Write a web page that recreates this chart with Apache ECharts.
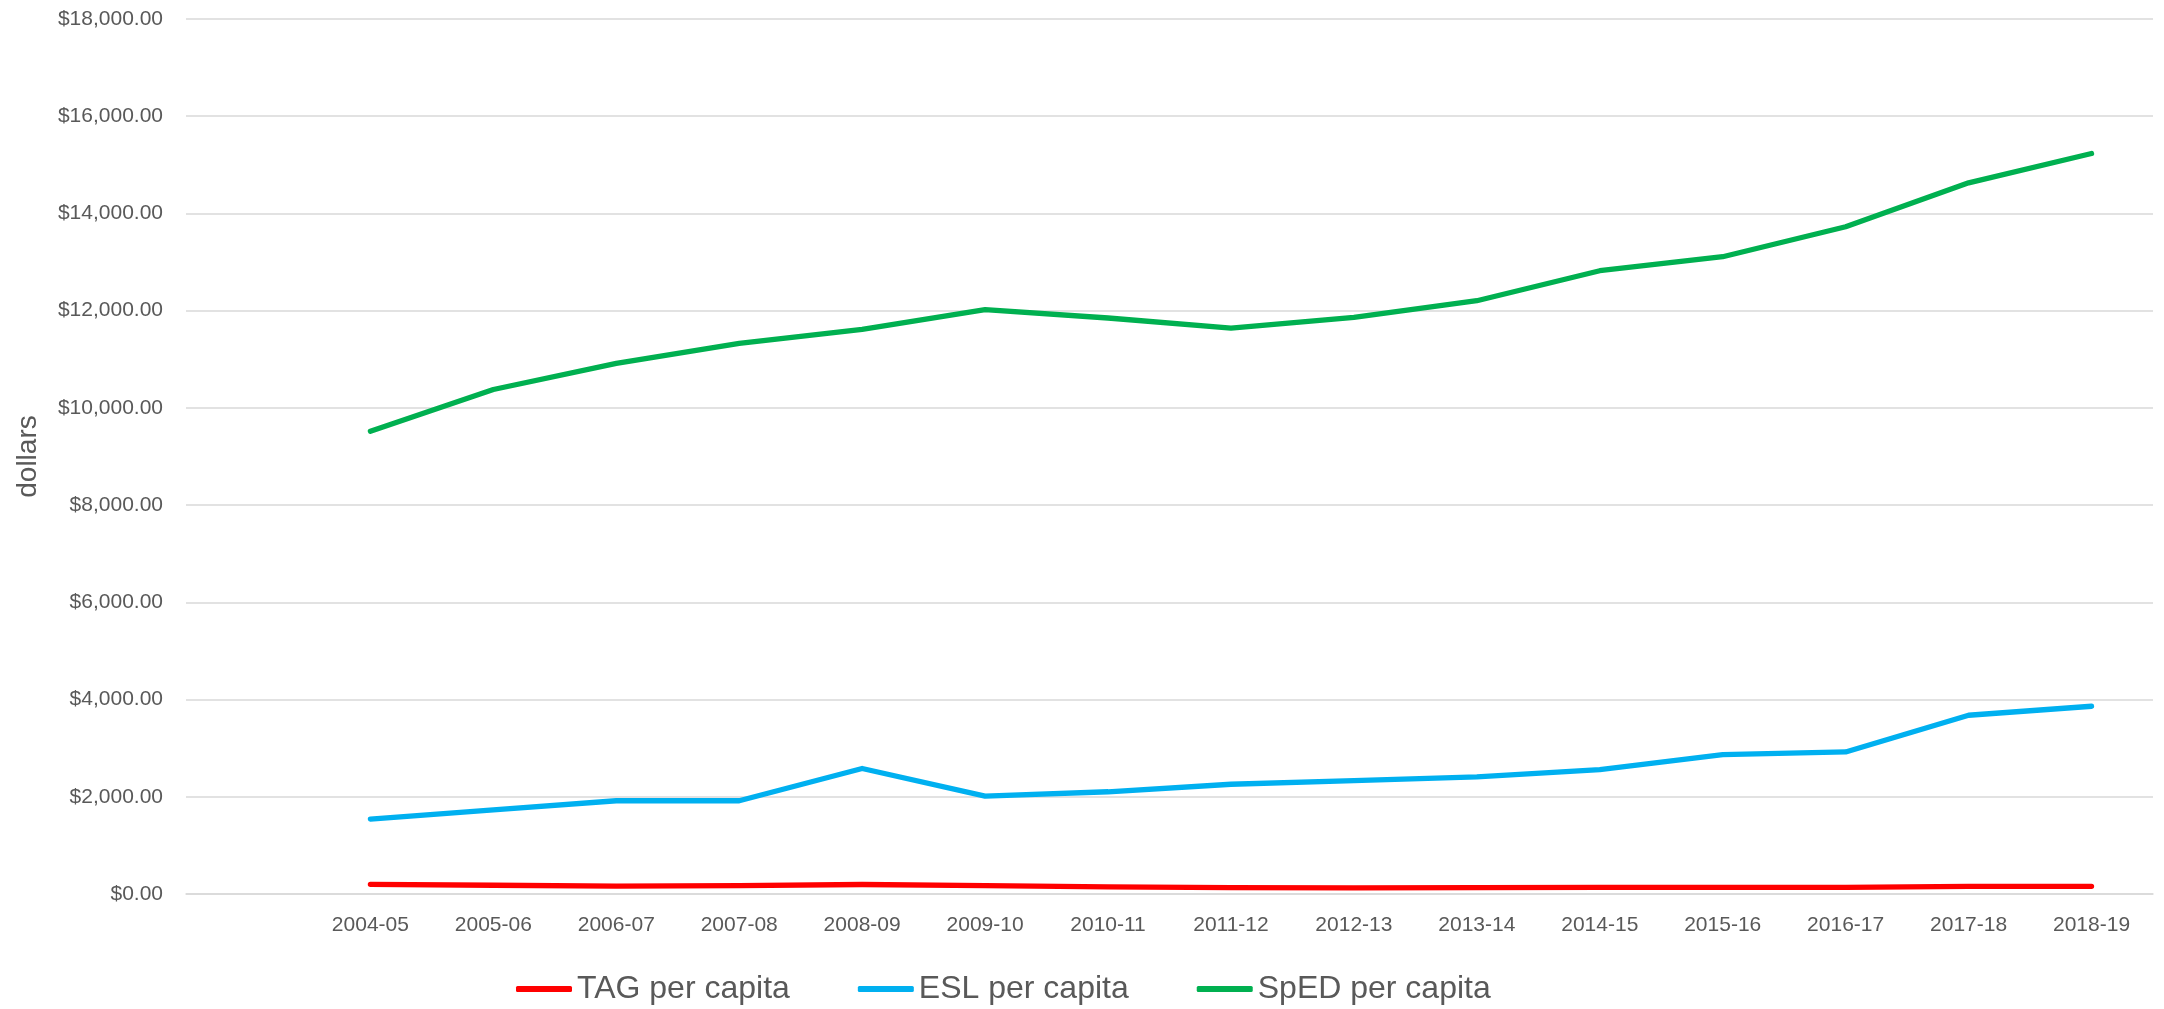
<!DOCTYPE html>
<html>
<head>
<meta charset="utf-8">
<script src="https://cdn.jsdelivr.net/npm/echarts@6/dist/echarts.min.js"></script>
<style>
  html, body { margin: 0; padding: 0; background: #fff; }
  #chart { width: 2164px; height: 1009px; }
</style>
</head>
<body>
<div id="chart"></div>
<script>
  // school years (first slot is left empty, as in the original sheet)
  let years = ['', '2004-05', '2005-06', '2006-07', '2007-08', '2008-09', '2009-10', '2010-11',
    '2011-12', '2012-13', '2013-14', '2014-15', '2015-16', '2016-17', '2017-18', '2018-19'];

  let tagPerCapita = [null, 199, 180, 164, 172, 195, 172, 146, 132, 125, 130, 137, 137, 137, 156, 158];
  let eslPerCapita = [null, 1541, 1729, 1918, 1918, 2582, 2014, 2103, 2258, 2332, 2408, 2559, 2867, 2922, 3677, 3862];
  let spedPerCapita = [null, 9519, 10378, 10914, 11326, 11615, 12021, 11849, 11640, 11863, 12205, 12822, 13110, 13726, 14630, 15233];

  let font = '"Liberation Sans", Arial, sans-serif';
  let textColor = '#595959';

  function lineSeries(name, data, color) {
    return {
      name: name,
      type: 'line',
      data: data,
      symbol: 'none',
      connectNulls: false,
      lineStyle: { color: color, width: 5.3, cap: 'round', join: 'round' },
      itemStyle: { color: color },
      emphasis: { disabled: true }
    };
  }

  let chart = echarts.init(document.getElementById('chart'));
  chart.setOption({
    animation: false,
    textStyle: { fontFamily: font },
    grid: { left: 186, right: 11, top: 19, bottom: 115 },
    legend: {
      left: 516,
      top: 973,
      padding: 0,
      icon: 'roundRect',
      itemWidth: 56,
      itemHeight: 6,
      itemGap: 68,
      textStyle: { color: textColor, fontSize: 32, fontFamily: font },
      data: ['TAG per capita', 'ESL per capita', 'SpED per capita']
    },
    xAxis: {
      type: 'category',
      data: years,
      boundaryGap: true,
      axisLine: { lineStyle: { color: '#d9d9d9', width: 1.5 } },
      axisTick: { show: false },
      axisLabel: { color: textColor, fontSize: 21, margin: 21, interval: 0 }
    },
    yAxis: {
      type: 'value',
      min: 0,
      max: 18000,
      interval: 2000,
      name: 'dollars',
      nameLocation: 'middle',
      nameRotate: 90,
      nameGap: 144,
      nameTextStyle: { color: textColor, fontSize: 28, fontFamily: font },
      axisLine: { show: false },
      axisTick: { show: false },
      splitLine: { lineStyle: { color: '#d9d9d9', width: 1.5 } },
      axisLabel: {
        color: textColor,
        fontSize: 21,
        margin: 23,
        formatter: v => '$' + v.toLocaleString('en-US', { minimumFractionDigits: 2, maximumFractionDigits: 2 })
      }
    },
    series: [
      lineSeries('TAG per capita', tagPerCapita, '#ff0000'),
      lineSeries('ESL per capita', eslPerCapita, '#00b0f0'),
      lineSeries('SpED per capita', spedPerCapita, '#00b050')
    ]
  });
</script>
</body>
</html>
